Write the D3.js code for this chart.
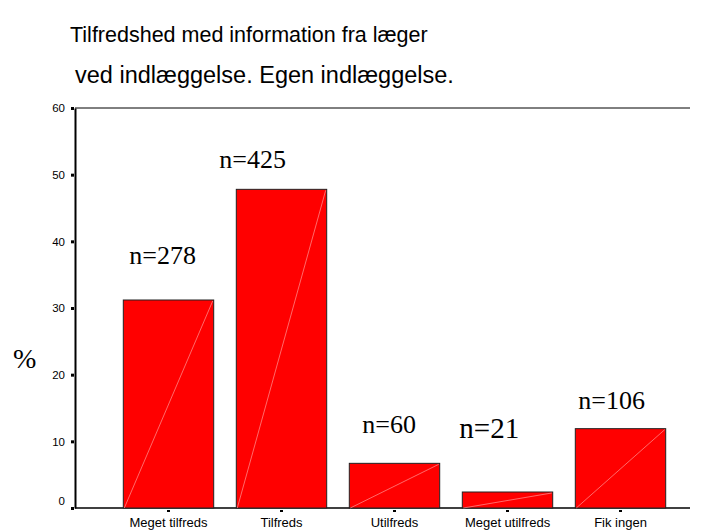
<!DOCTYPE html>
<html>
<head>
<meta charset="utf-8">
<script src="https://cdn.jsdelivr.net/npm/d3@7"></script>
<style>
  body { margin: 0; background: #fff; }
</style>
</head>
<body>
<svg class="chart" width="702" height="531"></svg>
<script>
// data
var categories = ["Meget tilfreds", "Tilfreds", "Utilfreds", "Meget utilfreds", "Fik ingen"];
var percents = [31.2, 47.8, 6.7, 2.4, 11.9];
var counts = [278, 425, 60, 21, 106];
var yTicks = [0, 10, 20, 30, 40, 50, 60];
var titleLines = ["Tilfredshed med information fra læger", "ved indlæggelse. Egen indlæggelse."];

var svg = d3.select(".chart"),
  margin = {top: 108, left: 75, bottom: 23, right: 12},
  width = +svg.attr("width"),
  height = +svg.attr("height");

var x = d3.scaleBand().domain(categories).range([112, 677]).paddingInner(0.2).paddingOuter(0.1);
var y = d3.scaleLinear().domain([0, 60]).range([height - margin.bottom, margin.top]);

// title, second line a bit bigger like the original
var titleSize = [21.5, 23.5];
svg.selectAll("text.title")
  .data(titleLines)
  .enter().append("text")
  .attr("class", "title")
  .attr("x", function(d, i) { return i == 0 ? 70 : 75; })
  .attr("y", function(d, i) { return i == 0 ? 42 : 83; })
  .attr("font-family", "Liberation Sans, Arial, sans-serif")
  .attr("font-size", function(d, i) { return titleSize[i]; })
  .attr("fill", "#000")
  .text(function(d) { return d; });

// frame lines: top and baseline
svg.append("line")
  .attr("x1", margin.left).attr("x2", 690)
  .attr("y1", y(60)).attr("y2", y(60))
  .attr("stroke", "#000").attr("stroke-width", 1);
svg.append("line")
  .attr("x1", margin.left).attr("x2", 690)
  .attr("y1", y(0)).attr("y2", y(0))
  .attr("stroke", "#000").attr("stroke-width", 1.5);

// bars
var bars = svg.append("g");
bars.selectAll("rect")
  .data(categories)
  .enter().append("rect")
  .attr("x", function(d) { return x(d); })
  .attr("y", function(d, i) { return y(percents[i]); })
  .attr("width", x.bandwidth())
  .attr("height", function(d, i) { return y(0) - y(percents[i]); })
  .attr("fill", "#ff0000")
  .attr("stroke", "#222")
  .attr("stroke-width", 1);

// faint diagonal in each bar
bars.selectAll("line")
  .data(categories)
  .enter().append("line")
  .attr("x1", function(d) { return x(d) + 1; })
  .attr("y1", y(0))
  .attr("x2", function(d) { return x(d) + x.bandwidth() - 1; })
  .attr("y2", function(d, i) { return y(percents[i]) + 1; })
  .attr("stroke", "#ffb0b0")
  .attr("stroke-width", 0.6);

// y axis
var yaxis = d3.axisLeft(y).tickValues(yTicks).tickSize(0).tickPadding(10);
var ya = svg.append("g")
  .attr("transform", "translate(" + margin.left + ",0)")
  .call(yaxis);
ya.select(".domain").attr("stroke", "#000").attr("stroke-width", 2);
ya.selectAll(".tick text")
  .attr("font-family", "Liberation Sans, Arial, sans-serif")
  .attr("font-size", 11.5)
  .attr("fill", "#000")
  .attr("dy", function(d) { return d == 0 ? "-0.3em" : "0.32em"; });
ya.selectAll(".tick").append("rect")
  .attr("x", -4).attr("y", -1.5)
  .attr("width", 3).attr("height", 3)
  .attr("fill", "#000");

// x axis
var xaxis = d3.axisBottom(x).tickSize(0).tickPadding(10);
var xa = svg.append("g")
  .attr("transform", "translate(0," + y(0) + ")")
  .call(xaxis);
xa.select(".domain").remove();
xa.selectAll(".tick text")
  .attr("font-family", "Liberation Sans, Arial, sans-serif")
  .attr("font-size", 13)
  .attr("fill", "#000");
xa.selectAll(".tick").append("rect")
  .attr("x", -1.5).attr("y", 2)
  .attr("width", 3).attr("height", 2)
  .attr("fill", "#000");

// n= labels, nudged like the original
var labelNudge = [[6, -36], [-17, -21], [13, -30], [-3, -54], [3, -20]];
var labelSize = [26, 26, 26, 29, 26];
svg.selectAll("text.nlabel")
  .data(categories)
  .enter().append("text")
  .attr("class", "nlabel")
  .attr("x", function(d, i) { return x(d) + labelNudge[i][0]; })
  .attr("y", function(d, i) { return y(percents[i]) + labelNudge[i][1]; })
  .attr("font-family", "Liberation Serif, Times New Roman, serif")
  .attr("font-size", function(d, i) { return labelSize[i]; })
  .attr("fill", "#000")
  .text(function(d, i) { return "n=" + counts[i]; });

// y label
svg.append("text")
  .attr("x", 13)
  .attr("y", 368)
  .attr("font-family", "Liberation Serif, Times New Roman, serif")
  .attr("font-size", 28)
  .attr("fill", "#000")
  .text("%");
</script>
</body>
</html>
